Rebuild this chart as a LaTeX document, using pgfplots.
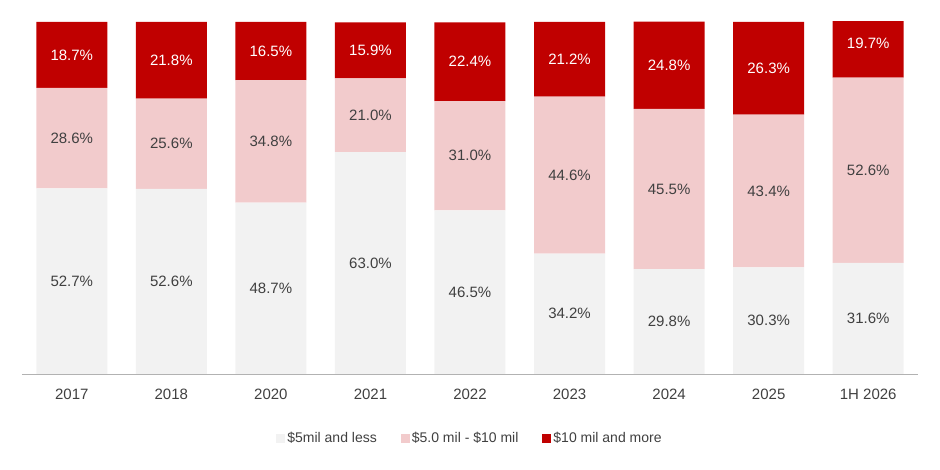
\documentclass[border=0pt]{standalone}
\usepackage{pgfplots}
\pgfplotsset{compat=1.18}
\usepackage{fontspec}
\setmainfont{Liberation Sans}
\definecolor{cA}{HTML}{F2F2F2}
\definecolor{cB}{HTML}{F2CBCC}
\definecolor{cC}{HTML}{C00000}
\definecolor{txt}{HTML}{404040}
\begin{document}
\begin{tikzpicture}
\path[use as bounding box] (-22pt,-96pt) rectangle (918pt,374pt);
\pgfplotsset{base/.style={scale only axis, width=896pt, height=352pt,
 xmin=-0.5, xmax=8.5, ymin=0, ymax=100, at={(0,0)}, anchor=south west}}
\begin{axis}[base, ybar stacked, bar width=71pt,
 axis x line*=bottom, axis y line=none, x axis line style={draw=gray!60, line width=0.8pt},
 xtick={0,...,8}, xticklabels={2017,2018,2020,2021,2022,2023,2024,2025,1H 2026},
 major tick length=0pt, tick label style={font=\fontsize{15}{17}\selectfont, text=txt},
 xticklabel style={yshift=-11pt},
 legend style={at={(0.5,-0.182)}, anchor=center, draw=none, legend columns=3,
  font=\fontsize{14}{16}\selectfont, text=txt,
  /tikz/every even column/.append style={column sep=22pt}},
 legend image code/.code={\fill[#1] (0pt,-4.5pt) rectangle (9pt,4.5pt);}]
\addplot[fill=cA, draw=none] coordinates {(0,52.7)(1,52.6)(2,48.7)(3,63.0)(4,46.5)(5,34.2)(6,29.8)(7,30.3)(8,31.6)};
\addplot[fill=cB, draw=none] coordinates {(0,28.6)(1,25.6)(2,34.8)(3,21.0)(4,31.0)(5,44.6)(6,45.5)(7,43.4)(8,52.6)};
\addplot[fill=cC, draw=none] coordinates {(0,18.7)(1,21.8)(2,16.5)(3,15.9)(4,22.4)(5,21.2)(6,24.8)(7,26.3)(8,19.7)};
\legend{\$5mil and less,\$5.0 mil - \$10 mil,\$10 mil and more}
\end{axis}
\begin{axis}[base, hide axis, nodes near coords, point meta=explicit symbolic,
 every node near coord/.append style={anchor=center, font=\fontsize{15}{17}\selectfont}]
\addplot[draw=none, mark=none, only marks, every node near coord/.append style={text=txt}] coordinates {
(0,26.35)[52.7\%] (1,26.3)[52.6\%] (2,24.35)[48.7\%] (3,31.5)[63.0\%] (4,23.25)[46.5\%]
(5,17.1)[34.2\%] (6,14.9)[29.8\%] (7,15.15)[30.3\%] (8,15.8)[31.6\%]};
\addplot[draw=none, mark=none, only marks, every node near coord/.append style={text=txt}] coordinates {
(0,67.0)[28.6\%] (1,65.4)[25.6\%] (2,66.1)[34.8\%] (3,73.5)[21.0\%] (4,62.0)[31.0\%]
(5,56.5)[44.6\%] (6,52.55)[45.5\%] (7,52.0)[43.4\%] (8,57.9)[52.6\%]};
\addplot[draw=none, mark=none, only marks, every node near coord/.append style={text=white}] coordinates {
(0,90.65)[18.7\%] (1,89.1)[21.8\%] (2,91.75)[16.5\%] (3,91.95)[15.9\%] (4,88.7)[22.4\%]
(5,89.4)[21.2\%] (6,87.7)[24.8\%] (7,86.85)[26.3\%] (8,94.05)[19.7\%]};
\end{axis}
\end{tikzpicture}
\end{document}
